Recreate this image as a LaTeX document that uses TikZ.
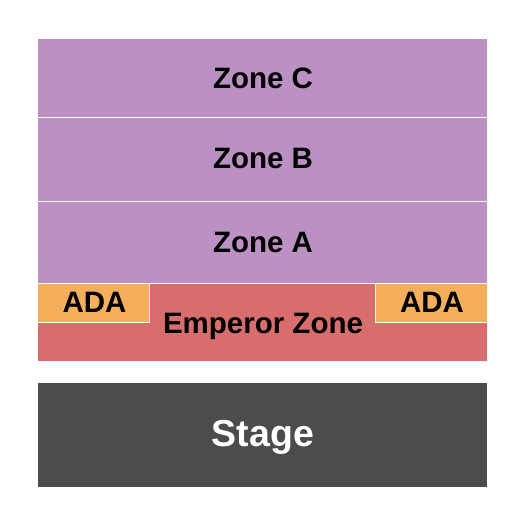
\documentclass[tikz,border=0pt]{standalone}
\usepackage{fontspec}
\setmainfont{Liberation Sans}
\definecolor{zonep}{HTML}{BB90C2}
\definecolor{adaor}{HTML}{F4AE5C}
\definecolor{emper}{HTML}{D76D6D}
\definecolor{stagec}{HTML}{4C4C4C}
\begin{document}
\begin{tikzpicture}[x=1pt,y=-1pt,
  lbl/.style={anchor=base,inner sep=0pt,font=\bfseries\fontsize{29.5}{29.5}\selectfont},
  sep/.style={draw=white,line width=1pt}]
\useasboundingbox (0,0) rectangle (525,525);
% zones
\fill[zonep] (38,39) rectangle (487,117);
\fill[zonep] (38,117) rectangle (487,201);
\fill[zonep] (38,201) rectangle (487,283);
\fill[emper] (38,283) rectangle (487,361);
\draw[sep] (38,117.5) -- (487,117.5);
\draw[sep] (38,201.5) -- (487,201.5);
\draw[sep] (38,283) -- (487,283);
% ADA boxes
\fill[adaor] (38,283.5) rectangle (149,322);
\fill[adaor] (375,283.5) rectangle (487,322);
\draw[sep] (38,322) -- (149,322) -- (149,283.5);
\draw[sep] (487,322) -- (375,322) -- (375,283.5);
% stage
\fill[stagec] (38,383) rectangle (487,487);
% labels
\node[lbl] (zc) at (263,88) {Zone C};
\node[lbl] (zb) at (263,168.5) {Zone B};
\node[lbl] (za) at (263,252) {Zone A};
\node[lbl] (adal) at (94.5,312) {ADA};
\node[lbl] (adar) at (432,312) {ADA};
\node[lbl] (emp) at (263,333) {Emperor Zone};
\node[lbl,text=white,font=\bfseries\fontsize{37.5}{37.5}\selectfont] (stg) at (263,446) {Stage};
\end{tikzpicture}
\end{document}
